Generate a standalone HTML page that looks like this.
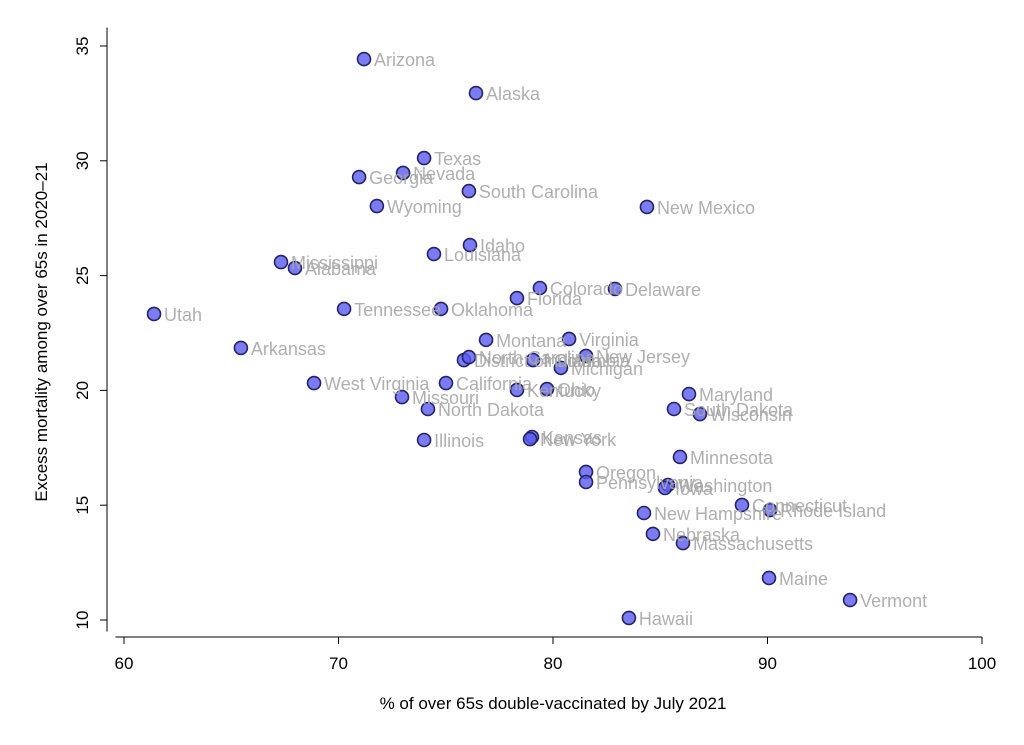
<!DOCTYPE html>
<html><head><meta charset="utf-8"><style>body{margin:0;background:#fff}svg{display:block}</style></head>
<body>
<svg id="chart" width="1024" height="745" xmlns="http://www.w3.org/2000/svg" font-family="Liberation Sans, sans-serif">
<g id="axes"></g>
<g id="points"></g>
<g id="labels"></g>
<text x="553" y="709" text-anchor="middle" font-size="17" fill="#000">% of over 65s double-vaccinated by July 2021</text>
<text transform="translate(47,332) rotate(-90)" text-anchor="middle" font-size="17" fill="#000">Excess mortality among over 65s in 2020–21</text>
</svg>
<script>
const states=["Arizona","Alaska","Texas","Nevada","Georgia","South Carolina","Wyoming","New Mexico","Idaho","Louisiana","Mississippi","Alabama","Colorado","Delaware","Florida","Utah","Tennessee","Oklahoma","Arkansas","Montana","Virginia","District of Columbia","North Carolina","Indiana","New Jersey","Michigan","West Virginia","California","Missouri","Kentucky","Ohio","North Dakota","Maryland","South Dakota","Wisconsin","Illinois","Kansas","New York","Minnesota","Oregon","Pennsylvania","Washington","Iowa","Connecticut","Rhode Island","New Hampshire","Nebraska","Massachusetts","Maine","Vermont","Hawaii"];
const vaccinated=[71.19,76.41,73.99,73.01,70.96,76.08,71.79,84.38,76.13,74.45,67.32,67.97,79.39,82.89,78.32,61.40,70.26,74.78,65.45,76.88,80.75,75.85,76.08,79.07,81.54,80.37,68.86,75.01,72.96,78.32,79.72,74.17,86.34,85.64,86.85,73.99,79.02,78.93,85.92,81.54,81.54,85.36,85.22,88.81,90.12,84.24,84.66,86.06,90.07,93.85,83.54];
const mortality=[34.43,32.95,30.12,29.47,29.29,28.68,28.03,27.99,26.33,25.94,25.59,25.33,24.46,24.42,24.02,23.33,23.55,23.55,21.85,22.20,22.24,21.32,21.45,21.32,21.50,20.98,20.32,20.32,19.71,20.02,20.06,19.19,19.84,19.19,18.97,17.84,17.97,17.88,17.10,16.45,16.01,15.88,15.75,15.01,14.79,14.66,13.75,13.35,11.83,10.87,10.09];
const xTicks=[60,70,80,90,100];
const yTicks=[10,15,20,25,30,35];
const NS="http://www.w3.org/2000/svg";
function xs(v){return 124+(v-60)*21.45;}
function ys(v){return 620-(v-10)*22.96;}
function mk(t,a,p){const e=document.createElementNS(NS,t);for(const k in a)e.setAttribute(k,a[k]);p.appendChild(e);return e;}
const ax=document.getElementById('axes');
let l=mk('line',{x1:107,y1:ys(35.8),x2:107,y2:ys(9.5),stroke:'#000','stroke-width':1},ax);


l=mk('line',{x1:xs(59.6),y1:637,x2:xs(100),y2:637,stroke:'#000','stroke-width':1},ax);


xTicks.forEach(v=>{
 const t=mk('line',{x1:xs(v),y1:637,x2:xs(v),y2:644,stroke:'#000'},ax);
 
 
 const tx=mk('text',{x:xs(v),y:669,'text-anchor':'middle','font-size':17},ax);tx.textContent=v;
 
 
});
yTicks.forEach(v=>{
 const t=mk('line',{x1:100,y1:ys(v),x2:107,y2:ys(v),stroke:'#000'},ax);
 
 
 const tx=mk('text',{transform:`translate(88,${ys(v)}) rotate(-90)`,'text-anchor':'middle','font-size':17},ax);tx.textContent=v;
 
 
});
const pg=document.getElementById('points'),lg=document.getElementById('labels');
states.forEach((s,i)=>{
 const cx=xs(vaccinated[i]),cy=ys(mortality[i]);
 const c=mk('circle',{cx:cx,cy:cy,r:6.5,fill:'rgba(90,90,240,0.8)',stroke:'#23236a','stroke-width':1.6},pg);
 
 
 const t=mk('text',{x:cx+10,y:cy+7,'font-size':18,fill:'#a6a6a6','fill-opacity':0.9},lg);
 t.textContent=s;
 
 
});
</script>
</body></html>
